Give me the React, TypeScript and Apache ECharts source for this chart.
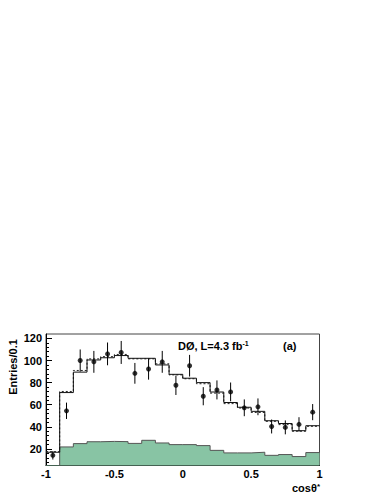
import React, { useEffect, useRef } from "react";
import * as echarts from "echarts";

// bin edges of cos(theta*) histogram
const binEdges = [-1, -0.9, -0.8, -0.7, -0.6, -0.5, -0.4, -0.3, -0.2, -0.1, 0, 0.1, 0.2, 0.3, 0.4, 0.5, 0.6, 0.7, 0.8, 0.9, 1];
const binCenters = [-0.95, -0.85, -0.75, -0.65, -0.55, -0.45, -0.35, -0.25, -0.15, -0.05, 0.05, 0.15, 0.25, 0.35, 0.45, 0.55, 0.65, 0.75, 0.85, 0.95];

// solid histogram (total prediction)
const totalSolid = [17, 71, 89.5, 100.5, 102.5, 104.5, 102, 102, 96, 87.5, 84, 80, 71.5, 62, 57.7, 54, 45.5, 43, 36.5, 41];
// dashed histogram (alternative prediction)
const totalDashed = [17.5, 72, 91, 101.5, 103.5, 105.5, 101.5, 101.5, 97, 87, 83.5, 79, 70.5, 61, 57, 53, 45, 42, 36, 40.5];
// background (green filled)
const background = [0, 21.8, 24.8, 26.5, 26.8, 26.6, 25, 27.8, 25.4, 23.9, 23.9, 23, 18.7, 16.4, 16.4, 17, 14.2, 14.9, 13.1, 16.7];
// data points and their errors
const dataValues = [14.2, 54.5, 100, 98.8, 106, 107.3, 88.4, 92.3, 98.8, 77.6, 95.3, 67.7, 73.4, 71.6, 57.2, 58.1, 40.3, 39.5, 42.2, 53.3];
const dataErrors = [3.8, 7.4, 10, 9.9, 10.3, 10.4, 9.4, 9.6, 9.9, 8.8, 9.8, 8.2, 8.6, 8.5, 7.6, 7.6, 6.3, 6.3, 6.5, 7.3];

// tick labels
const xTicks = [-1, -0.5, 0, 0.5, 1];
const yMajorTicks = [20, 40, 60, 80, 100, 120];
const yMinorTicks = [8, 12, 16, 24, 28, 32, 36, 44, 48, 52, 56, 64, 68, 72, 76, 84, 88, 92, 96, 104, 108, 112, 116];

const FONT = "Liberation Sans";

function stepData(values: number[]) {
  const pts: number[][] = values.map((v, i) => [binEdges[i], v]);
  pts.push([binEdges[binEdges.length - 1], values[values.length - 1]]);
  return pts;
}

export default function App() {
  const ref = useRef<HTMLDivElement>(null);
  useEffect(() => {
    if (!ref.current) return;
    const chart = echarts.init(ref.current, undefined, { renderer: "svg" });
    const labelStyle = { fontFamily: FONT, fontWeight: "bold" as const, fontSize: 11, color: "#000" };
    chart.setOption({
      animation: false,
      backgroundColor: "#fff",
      grid: {
        left: 46,
        top: 334,
        width: 273.5,
        height: 131.5,
        show: true,
        borderColor: "#444",
        borderWidth: 1,
        backgroundColor: "transparent",
      },
      xAxis: {
        type: "value",
        min: -1,
        max: 1,
        interval: 0.5,
        axisLine: { show: true, onZero: false, lineStyle: { color: "#000", width: 1 } },
        axisTick: { show: false },
        splitLine: { show: false },
        axisLabel: {
          ...labelStyle,
          margin: 3,
          customValues: xTicks,
          formatter: (v: number) => String(v),
        },
      },
      yAxis: [
        {
          type: "value",
          min: 5,
          max: 124,
          axisLine: { show: true, onZero: false, lineStyle: { color: "#000", width: 1 } },
          axisTick: { show: true, inside: true, length: 6, customValues: yMajorTicks, lineStyle: { color: "#000" } },
          splitLine: { show: false },
          axisLabel: { ...labelStyle, margin: 4, customValues: yMajorTicks },
        },
        {
          type: "value",
          min: 5,
          max: 124,
          position: "left",
          axisLine: { show: false, onZero: false },
          axisTick: { show: true, inside: true, length: 3, customValues: yMinorTicks, lineStyle: { color: "#000" } },
          splitLine: { show: false },
          axisLabel: { show: false },
        },
      ],
      graphic: [
        {
          type: "text",
          x: 13,
          y: 367,
          rotation: Math.PI / 2,
          style: {
            text: "Entries/0.1",
            font: `bold 11px "${FONT}"`,
            fill: "#000",
            align: "center",
            verticalAlign: "middle",
          },
        },
        {
          type: "text",
          x: 178,
          y: 346,
          style: {
            text: "{m|DØ, L=4.3 fb}{s|-1}",
            fill: "#000",
            align: "left",
            verticalAlign: "middle",
            rich: {
              m: { fontFamily: FONT, fontWeight: "bold", fontSize: 11, lineHeight: 13, verticalAlign: "middle" },
              s: { fontFamily: FONT, fontWeight: "bold", fontSize: 7, lineHeight: 13, verticalAlign: "top", padding: [0, 0, 4, 0] },
            },
          },
        },
        {
          type: "text",
          x: 283,
          y: 346,
          style: {
            text: "(a)",
            font: `bold 11px "${FONT}"`,
            fill: "#000",
            align: "left",
            verticalAlign: "middle",
          },
        },
        {
          type: "text",
          x: 320,
          y: 488,
          style: {
            text: "{m|cosθ}{s|*}",
            fill: "#000",
            align: "right",
            verticalAlign: "middle",
            rich: {
              m: { fontFamily: FONT, fontWeight: "bold", fontSize: 11, lineHeight: 12, verticalAlign: "middle" },
              s: { fontFamily: FONT, fontWeight: "bold", fontSize: 8, lineHeight: 12, verticalAlign: "top" },
            },
          },
        },
      ],
      series: [
        {
          name: "background",
          type: "line",
          step: "end",
          data: stepData(background),
          symbol: "none",
          clip: true,
          z: 1,
          lineStyle: { color: "#555", width: 1 },
          areaStyle: { color: "#88c4a4", opacity: 1, origin: "start" },
        },
        {
          name: "dashed",
          type: "line",
          step: "end",
          data: stepData(totalDashed),
          symbol: "none",
          clip: true,
          z: 2,
          lineStyle: { color: "#222", width: 1, type: [2, 2] },
        },
        {
          name: "solid",
          type: "line",
          step: "end",
          data: stepData(totalSolid),
          symbol: "none",
          clip: true,
          z: 3,
          lineStyle: { color: "#111", width: 1 },
        },
        {
          name: "errors",
          type: "custom",
          z: 4,
          data: binCenters.map((x, i) => [x, dataValues[i], dataErrors[i]]),
          encode: { x: 0, y: 1 },
          renderItem: (params: any, api: any) => {
            const x = api.value(0);
            const y = api.value(1);
            const e = api.value(2);
            const p1 = api.coord([x, y - e]);
            const p2 = api.coord([x, y + e]);
            return {
              type: "line",
              shape: { x1: p1[0], y1: p1[1], x2: p2[0], y2: p2[1] },
              style: { stroke: "#000", lineWidth: 1 },
            };
          },
        },
        {
          name: "data",
          type: "scatter",
          z: 5,
          data: binCenters.map((x, i) => [x, dataValues[i]]),
          symbol: "circle",
          symbolSize: 5,
          itemStyle: { color: "#000" },
        },
      ],
    });
    return () => chart.dispose();
  }, []);
  return (
    <div
      ref={ref}
      style={{ position: "fixed", left: 0, top: 0, width: 383, height: 495, background: "#fff" }}
    />
  );
}
